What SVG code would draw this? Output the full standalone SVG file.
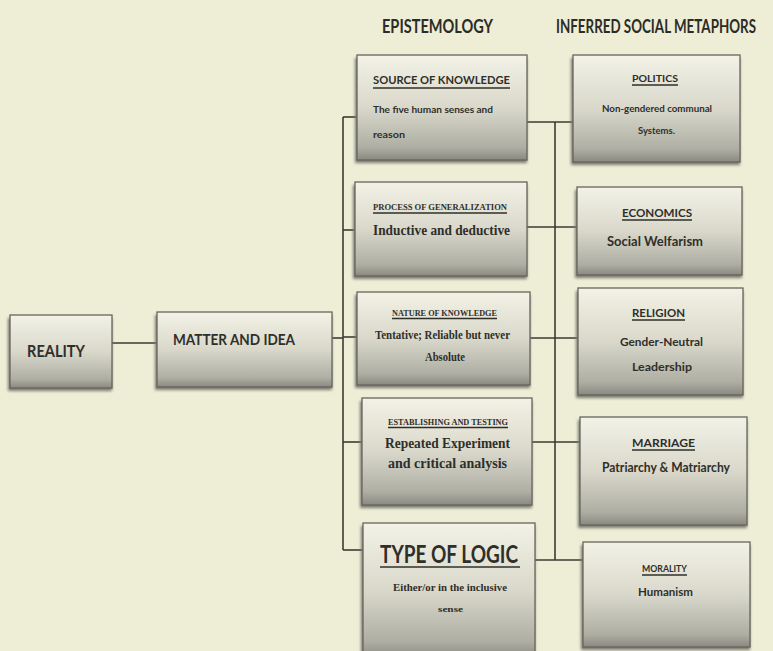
<svg xmlns="http://www.w3.org/2000/svg" width="773" height="651" viewBox="0 0 773 651">
<defs>
<linearGradient id="boxg" x1="0" y1="0" x2="0" y2="1">
<stop offset="0" stop-color="#f3f2e6"/>
<stop offset="0.5" stop-color="#d9d8cb"/>
<stop offset="0.88" stop-color="#afaea3"/>
<stop offset="1" stop-color="#8a8980"/>
</linearGradient>
<filter id="sh" x="-10%" y="-10%" width="120%" height="130%">
<feGaussianBlur stdDeviation="1.5"/>
</filter>
</defs>
<style>
.bg{fill:#eeedd6}
.shadow{fill:#7a7970;filter:url(#sh)}
.box{fill:url(#boxg);stroke:#66655d;stroke-width:1.3}
.con line{stroke:#3b3a35;stroke-width:1.6}
.s{font-family:Lato,"Liberation Sans",sans-serif;font-weight:bold;fill:#2f2f2a}
.r{font-family:"Liberation Serif",serif;font-weight:bold;fill:#2f2f2a}
.hd{font-family:Lato,"Liberation Sans",sans-serif;font-weight:bold;fill:#2c2c27;font-size:14px}
.ul{stroke:#2f2f2a;stroke-width:1.3}
</style>
<rect class="bg" x="0" y="0" width="773" height="651"/>

<text class="hd" transform="translate(382,33) scale(1,1.35)" x="0" y="0" textLength="111" lengthAdjust="spacingAndGlyphs">EPISTEMOLOGY</text>
<text class="hd" transform="translate(556,33) scale(1,1.35)" x="0" y="0" textLength="200" lengthAdjust="spacingAndGlyphs">INFERRED SOCIAL METAPHORS</text>

<g class="con" id="connectors">
<line x1="112" y1="343" x2="157" y2="343"/>
<line x1="332" y1="338" x2="343" y2="338"/>
<line x1="343" y1="117" x2="343" y2="550"/>
<line x1="343" y1="117" x2="357" y2="117"/>
<line x1="343" y1="230" x2="355" y2="230"/>
<line x1="343" y1="337" x2="357" y2="337"/>
<line x1="343" y1="442" x2="362" y2="442"/>
<line x1="343" y1="550" x2="363" y2="550"/>
<line x1="555" y1="122" x2="555" y2="560"/>
<line x1="527" y1="122" x2="573" y2="122"/>
<line x1="527" y1="227" x2="577" y2="227"/>
<line x1="530" y1="338" x2="578" y2="338"/>
<line x1="532" y1="442" x2="580" y2="442"/>
<line x1="535" y1="560" x2="583" y2="560"/>
</g>

<g id="reality">
<rect class="shadow" x="8" y="318" width="104" height="73"/>
<rect class="box" x="10" y="315" width="102" height="73"/>
<text class="s" x="27" y="357" font-size="17" textLength="58" lengthAdjust="spacingAndGlyphs">REALITY</text>
</g>

<g id="matter">
<rect class="shadow" x="155" y="315" width="177" height="75"/>
<rect class="box" x="157" y="312" width="175" height="75"/>
<text class="s" x="173" y="345" font-size="15" textLength="122" lengthAdjust="spacingAndGlyphs">MATTER AND IDEA</text>
</g>

<g id="source">
<rect class="shadow" x="355" y="58" width="172" height="105"/>
<rect class="box" x="357" y="55" width="170" height="105"/>
<text class="s" x="373" y="84" font-size="12" textLength="137" lengthAdjust="spacingAndGlyphs">SOURCE OF KNOWLEDGE</text>
<line class="ul" x1="373" y1="88" x2="510" y2="88"/>
<text class="s" x="373" y="113" font-size="10" textLength="120" lengthAdjust="spacingAndGlyphs">The five human senses and</text>
<text class="s" x="373" y="138" font-size="10" textLength="32" lengthAdjust="spacingAndGlyphs">reason</text>
</g>

<g id="process">
<rect class="shadow" x="353" y="185" width="174" height="94"/>
<rect class="box" x="355" y="182" width="172" height="94"/>
<text class="r" x="373" y="210" font-size="9" textLength="134" lengthAdjust="spacingAndGlyphs">PROCESS OF GENERALIZATION</text>
<line class="ul" x1="373" y1="213" x2="507" y2="213"/>
<text class="r" x="373" y="235" font-size="14" textLength="137" lengthAdjust="spacingAndGlyphs">Inductive and deductive</text>
</g>

<g id="nature">
<rect class="shadow" x="355" y="295" width="175" height="93"/>
<rect class="box" x="357" y="292" width="173" height="93"/>
<text class="r" x="392" y="316" font-size="8" textLength="105" lengthAdjust="spacingAndGlyphs">NATURE OF KNOWLEDGE</text>
<line class="ul" x1="392" y1="318.5" x2="497" y2="318.5"/>
<text class="r" x="375" y="339" font-size="12" textLength="135" lengthAdjust="spacingAndGlyphs">Tentative; Reliable but never</text>
<text class="r" x="425" y="361" font-size="12" textLength="40" lengthAdjust="spacingAndGlyphs">Absolute</text>
</g>

<g id="establishing">
<rect class="shadow" x="360" y="401" width="172" height="107"/>
<rect class="box" x="362" y="398" width="170" height="107"/>
<text class="r" x="388" y="425" font-size="8" textLength="120" lengthAdjust="spacingAndGlyphs">ESTABLISHING  AND TESTING</text>
<line class="ul" x1="388" y1="427.5" x2="508" y2="427.5"/>
<text class="r" x="385" y="448" font-size="14" textLength="125" lengthAdjust="spacingAndGlyphs">Repeated Experiment</text>
<text class="r" x="388" y="468" font-size="14" textLength="119" lengthAdjust="spacingAndGlyphs">and critical analysis</text>
</g>

<g id="logic">
<rect class="shadow" x="361" y="526" width="174" height="135"/>
<rect class="box" x="363" y="523" width="172" height="135"/>
<text class="s" x="380" y="563" font-size="24" font-weight="normal" textLength="138" lengthAdjust="spacingAndGlyphs">TYPE OF LOGIC</text>
<line class="ul" x1="380" y1="567" x2="520" y2="567"/>
<text class="r" x="393" y="591" font-size="10" textLength="114" lengthAdjust="spacingAndGlyphs">Either/or in the inclusive</text>
<text class="r" x="438" y="612" font-size="9" textLength="25" lengthAdjust="spacingAndGlyphs">sense</text>
</g>

<g id="politics">
<rect class="shadow" x="571" y="58" width="169" height="107"/>
<rect class="box" x="573" y="55" width="167" height="107"/>
<text class="s" x="632" y="82" font-size="10" textLength="46" lengthAdjust="spacingAndGlyphs">POLITICS</text>
<line class="ul" x1="632" y1="85" x2="678" y2="85"/>
<text class="s" x="602" y="112" font-size="9" textLength="110" lengthAdjust="spacingAndGlyphs">Non-gendered communal</text>
<text class="s" x="638" y="134" font-size="9" textLength="37" lengthAdjust="spacingAndGlyphs">Systems.</text>
</g>

<g id="economics">
<rect class="shadow" x="575" y="190" width="167" height="88"/>
<rect class="box" x="577" y="187" width="165" height="88"/>
<text class="s" x="622" y="217" font-size="12" textLength="70" lengthAdjust="spacingAndGlyphs">ECONOMICS</text>
<line class="ul" x1="622" y1="220" x2="692" y2="220"/>
<text class="s" x="607" y="246" font-size="13" textLength="96" lengthAdjust="spacingAndGlyphs">Social Welfarism</text>
</g>

<g id="religion">
<rect class="shadow" x="576" y="291" width="167" height="107"/>
<rect class="box" x="578" y="288" width="165" height="107"/>
<text class="s" x="632" y="317" font-size="11" textLength="53" lengthAdjust="spacingAndGlyphs">RELIGION</text>
<line class="ul" x1="632" y1="320" x2="685" y2="320"/>
<text class="s" x="620" y="346" font-size="12" textLength="83" lengthAdjust="spacingAndGlyphs">Gender-Neutral</text>
<text class="s" x="632" y="371" font-size="12" textLength="60" lengthAdjust="spacingAndGlyphs">Leadership</text>
</g>

<g id="marriage">
<rect class="shadow" x="578" y="420" width="169" height="108"/>
<rect class="box" x="580" y="417" width="167" height="108"/>
<text class="s" x="632" y="447" font-size="12" textLength="63" lengthAdjust="spacingAndGlyphs">MARRIAGE</text>
<line class="ul" x1="632" y1="450" x2="695" y2="450"/>
<text class="s" x="602" y="472" font-size="13" textLength="128" lengthAdjust="spacingAndGlyphs">Patriarchy &amp; Matriarchy</text>
</g>

<g id="morality">
<rect class="shadow" x="581" y="545" width="169" height="105"/>
<rect class="box" x="583" y="542" width="167" height="105"/>
<text class="s" x="642" y="572" font-size="9" textLength="45" lengthAdjust="spacingAndGlyphs">MORALITY</text>
<line class="ul" x1="642" y1="575" x2="687" y2="575"/>
<text class="s" x="638" y="596" font-size="12" font-weight="normal" textLength="55" lengthAdjust="spacingAndGlyphs">Humanism</text>
</g>
</svg>
